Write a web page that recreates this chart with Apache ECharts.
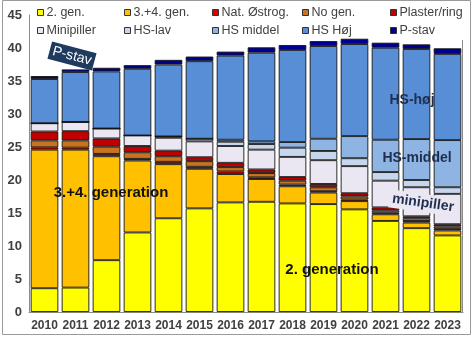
<!DOCTYPE html>
<html>
<head>
<meta charset="utf-8">
<script src="https://cdn.jsdelivr.net/npm/echarts@6/dist/echarts.min.js"></script>
<style>
  html, body { margin: 0; padding: 0; background: #fff; }
  #chart { width: 474px; height: 337px; }
</style>
</head>
<body>
<div id="chart"></div>
<script>
// Years on the category axis
const years = ['2010', '2011', '2012', '2013', '2014', '2015', '2016', '2017', '2018', '2019', '2020', '2021', '2022', '2023'];

// Stacked series, bottom to top
const gen2       = [3.6, 3.7, 7.85, 12.05, 14.2, 15.7, 16.6, 16.7, 16.45, 16.35, 15.55, 13.8, 12.7, 11.6];
const gen34      = [21.0, 20.9, 15.75, 10.9, 8.2, 6.0, 4.3, 3.45, 2.6, 1.75, 1.25, 1.0, 0.85, 0.75];
const natOestrog = [0.35, 0.3, 0.35, 0.25, 0.35, 0.3, 0.4, 0.25, 0.25, 0.2, 0.25, 0.25, 0.25, 0.25];
const noGen      = [1.05, 1.1, 1.1, 1.0, 0.85, 0.85, 0.65, 0.65, 0.6, 0.6, 0.45, 0.35, 0.4, 0.35];
const plaster    = [1.35, 1.4, 1.25, 0.95, 0.85, 0.6, 0.65, 0.55, 0.55, 0.5, 0.5, 0.45, 0.3, 0.35];
const minipiller = [1.25, 1.4, 1.5, 1.6, 1.95, 2.4, 2.55, 3.0, 3.05, 3.6, 4.1, 4.05, 4.4, 4.6];
const hsLav      = [0, 0, 0, 0, 0.2, 0.4, 0.65, 0.85, 1.4, 1.4, 1.2, 1.3, 1.1, 1.0];
const hsMiddel   = [0, 0, 0, 0, 0, 0, 0.3, 0.4, 0.85, 1.85, 3.35, 4.9, 6.2, 7.15];
const hsHoej     = [6.7, 7.55, 8.65, 10.1, 10.9, 11.75, 12.75, 13.45, 13.95, 14.05, 13.95, 13.95, 13.65, 13.05];
const pStav      = [0.45, 0.4, 0.55, 0.55, 0.7, 0.7, 0.6, 0.8, 0.75, 0.75, 0.8, 0.75, 0.7, 0.85];

// Value axis ticks
const yMin = 0, yMax = 45, yStep = 5;

const seriesDefs = [
  { name: '2. gen.',      data: gen2,       color: '#ffff00' },
  { name: '3.+4. gen.',   data: gen34,      color: '#ffc000' },
  { name: 'Nat. Østrog.', data: natOestrog, color: '#e00000' },
  { name: 'No gen.',      data: noGen,      color: '#c8731e' },
  { name: 'Plaster/ring', data: plaster,    color: '#c00000' },
  { name: 'Minipiller',   data: minipiller, color: '#ebe7f2' },
  { name: 'HS-lav',       data: hsLav,      color: '#c6d6ec' },
  { name: 'HS middel',    data: hsMiddel,   color: '#8db4e2' },
  { name: 'HS Høj',       data: hsHoej,     color: '#588ed6' },
  { name: 'P-stav',       data: pStav,      color: '#000090' }
];

const FONT = '"Liberation Sans", Arial, sans-serif';

// Legend laid out as a 5 x 2 table
const legendCols = [37, 124, 212, 302, 390];
const legendRows = [6, 24];
const legends = seriesDefs.map((s, i) => ({
  data: [s.name],
  left: legendCols[i % 5],
  top: legendRows[Math.floor(i / 5)],
  padding: 0,
  itemWidth: 6,
  itemHeight: 6,
  icon: 'rect',
  selectedMode: false,
  itemStyle: { borderColor: '#333', borderWidth: 1 },
  textStyle: { fontFamily: FONT, fontSize: 12.5, color: '#404040', padding: [0, 0, 0, -2] }
}));

const chart = echarts.init(document.getElementById('chart'), null, { renderer: 'canvas' });

chart.setOption({
  animation: false,
  backgroundColor: '#ffffff',
  legend: legends,
  grid: { left: 29, right: 11, top: 15, bottom: 25, containLabel: false },
  xAxis: {
    type: 'category',
    data: years,
    axisTick: { show: false },
    axisLine: { show: true, lineStyle: { color: '#8c8c8c', width: 1 } },
    axisLabel: { interval: 0, fontFamily: FONT, fontSize: 12, fontWeight: 'bold', color: '#404040', margin: 8 }
  },
  yAxis: {
    type: 'value',
    min: yMin,
    max: yMax,
    interval: yStep,
    splitLine: { show: false },
    axisTick: { show: false },
    axisLine: { show: true, lineStyle: { color: '#8c8c8c', width: 1 } },
    axisLabel: { fontFamily: FONT, fontSize: 13, fontWeight: 'bold', color: '#404040', margin: 7 }
  },
  series: seriesDefs.map(s => ({
    name: s.name,
    type: 'bar',
    stack: 'total',
    data: s.data,
    barCategoryGap: '11%',
    itemStyle: { color: s.color, borderColor: '#151515', borderWidth: 0.9 },
    emphasis: { disabled: true }
  })),
  graphic: [
    // outer frame
    { type: 'rect', z: 100, shape: { x: 2.5, y: 0.5, width: 468, height: 334 },
      style: { fill: 'none', stroke: '#9a9a9a', lineWidth: 1 }, silent: true },
    // right edge of the plot area
    { type: 'line', z: 100, shape: { x1: 462.5, y1: 40, x2: 462.5, y2: 312 },
      style: { stroke: '#8c8c8c', lineWidth: 1 }, silent: true },
    // P-stav tag
    { type: 'group', z: 100, x: 72, y: 56, rotation: -0.26, children: [
      { type: 'rect', z: 100, shape: { x: -23, y: -9, width: 46, height: 18 }, style: { fill: '#1f3a5f' } },
      { type: 'text', z: 101, style: { text: 'P-stav', x: 0, y: 0, align: 'center', verticalAlign: 'middle',
        fill: '#ffffff', font: '14px ' + FONT } }
    ]},
    { type: 'text', z: 100, style: { text: 'HS-høj', x: 412, y: 100, align: 'center', verticalAlign: 'middle',
      fill: '#1f2d4f', font: 'bold 14px ' + FONT } },
    { type: 'text', z: 100, style: { text: 'HS-middel', x: 417, y: 158, align: 'center', verticalAlign: 'middle',
      fill: '#1f2d4f', font: 'bold 14px ' + FONT } },
    { type: 'group', z: 100, x: 423, y: 203, rotation: -0.14, children: [
      { type: 'rect', z: 100, shape: { x: -34, y: -9, width: 68, height: 18 }, style: { fill: '#ebe7f2' } },
      { type: 'text', z: 101, style: { text: 'minipiller', x: 0, y: 0, align: 'center', verticalAlign: 'middle',
        fill: '#1f2d4f', font: 'bold 14px ' + FONT } }
    ]},
    { type: 'text', z: 100, style: { text: '3.+4. generation', x: 111, y: 193, align: 'center', verticalAlign: 'middle',
      fill: '#111', font: 'bold 15px ' + FONT } },
    { type: 'text', z: 100, style: { text: '2. generation', x: 332, y: 270, align: 'center', verticalAlign: 'middle',
      fill: '#111', font: 'bold 15px ' + FONT } }
  ]
});
</script>
</body>
</html>
